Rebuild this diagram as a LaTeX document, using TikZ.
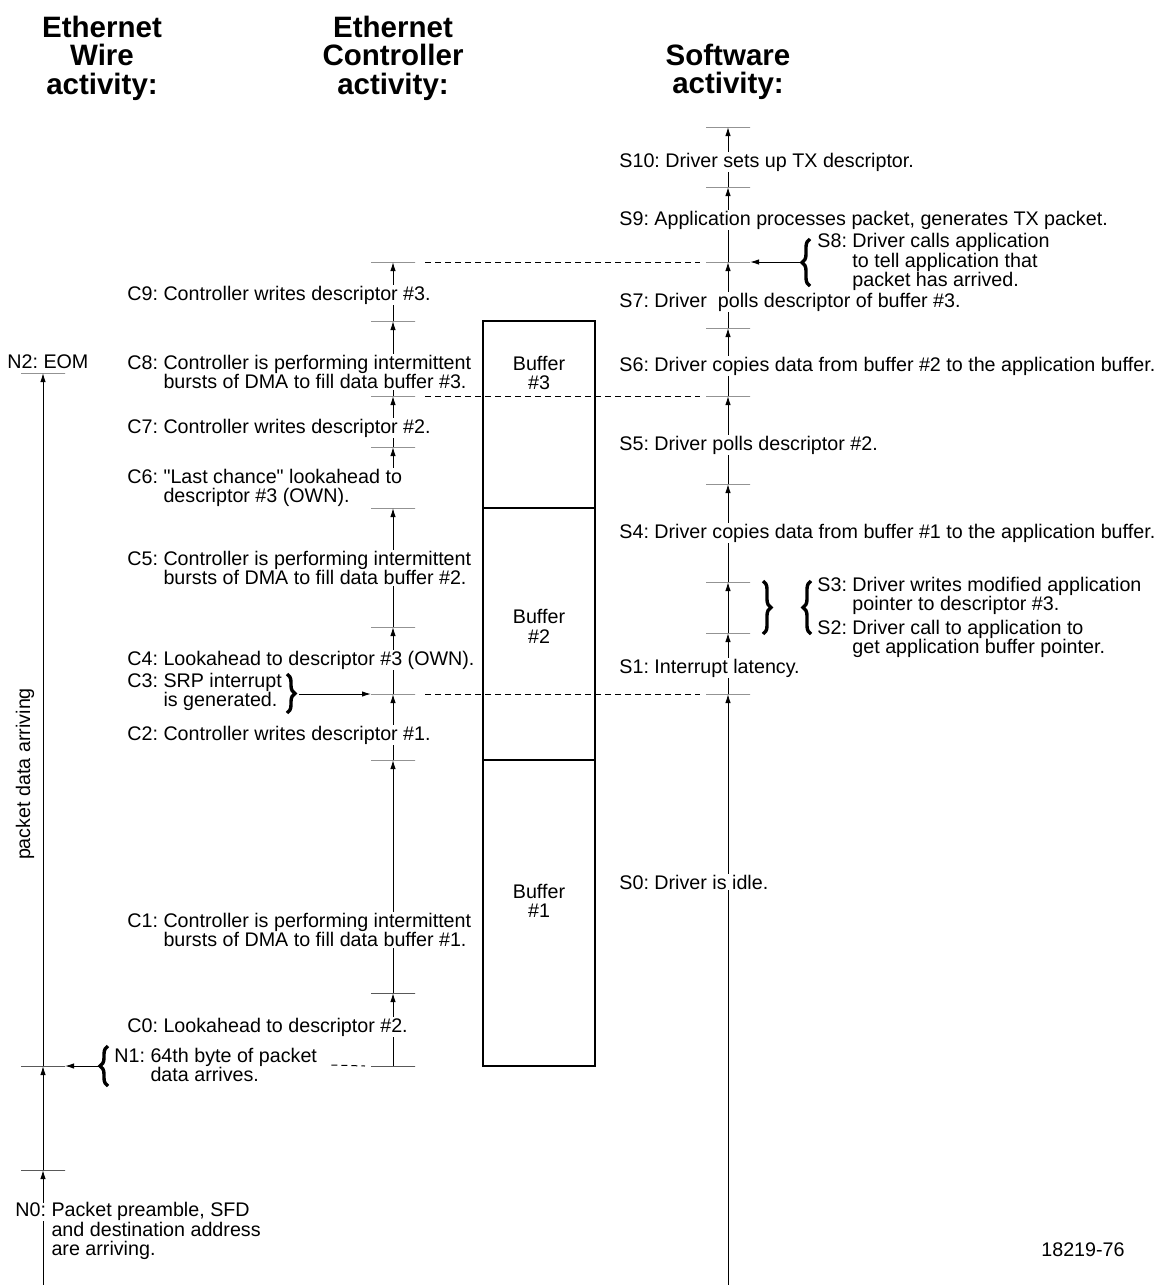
\documentclass[tikz,border=0pt]{standalone}
\usepackage{fontspec}
\setmainfont{Liberation Sans}
\usepackage{tikz}
\usetikzlibrary{arrows.meta, positioning, calc, fit, decorations.pathreplacing}
\frenchspacing
\newcommand{\stepfont}{\fontsize{9.85}{9.6}\selectfont}
\newcommand{\hdrfont}{\fontsize{14.75}{14.25}\selectfont\bfseries}
\tikzset{
  tickmark/.style={rectangle, draw=black!65, line width=0.5pt,
    minimum width=22pt, minimum height=0pt, inner sep=0pt, outer sep=0pt},
  flow/.style={-{Latex[length=4.5pt,width=2.7pt]}, line width=0.5pt},
  syncline/.style={line width=0.5pt, dash pattern=on 3pt off 2pt},
  bufferbox/.style={rectangle, draw, line width=1.3pt, inner sep=0pt},
  buftext/.style={font=\stepfont, align=center},
  steptext/.style={anchor=west, fill=white, inner xsep=1pt, inner ysep=0.5pt,
    font=\stepfont, align=left},
  hdrtext/.style={font=\hdrfont, align=center},
  curly/.style={decorate, decoration={brace, amplitude=4pt}, line width=1.7pt}
}

\begin{document}
\begin{tikzpicture}[x=0.5pt, y=-0.5pt]
  \useasboundingbox (0,0) rectangle (1157,1285);

  % Column headings
  \node[hdrtext] (wirehdr) at (102,58) {Ethernet\\Wire\\activity:};
  \node[hdrtext] (ctrlhdr) at (393,58) {Ethernet\\Controller\\activity:};
  \node[hdrtext] (swhdr) at (728,72) {Software\\activity:};

  % Receive buffers
  \node[bufferbox, fit={(483,321) (595,508)}] (buf3) {};
  \node[bufferbox, fit={(483,508) (595,760)}] (buf2) {};
  \node[bufferbox, fit={(483,760) (595,1066)}] (buf1) {};
  \node[buftext] (buf3lbl) at ($(buf3.north)!0.28!(buf3.south)$) {Buffer\\\#3};
  \node[buftext] (buf2lbl) at ($(buf2.north)!0.47!(buf2.south)$) {Buffer\\\#2};
  \node[buftext] (buf1lbl) at ($(buf1.north)!0.46!(buf1.south)$) {Buffer\\\#1};

  % Wire time line
  \coordinate (wirebot) at (43,1285);
  \node[tickmark] (n0t) at (43,1170) {};
  \node[tickmark] (n1t) at (43,1066) {};
  \node[tickmark] (n2t) at (43,373) {};
  \draw[flow] (wirebot) -- (n0t);
  \draw[flow] (n0t) -- (n1t);
  \draw[flow] (n1t) -- (n2t);

  % Controller time line
  \node[tickmark] (ct1) at (393,1066) {};
  \node[tickmark] (ct2) at (393,993) {};
  \node[tickmark] (ct3) at (393,760) {};
  \node[tickmark] (ct4) at (393,694) {};
  \node[tickmark] (ct5) at (393,627) {};
  \node[tickmark] (ct6) at (393,508) {};
  \node[tickmark] (ct7) at (393,447) {};
  \node[tickmark] (ct8) at (393,396) {};
  \node[tickmark] (ct9) at (393,321) {};
  \node[tickmark] (ct10) at (393,262) {};
  \draw[flow] (ct1) -- (ct2);
  \draw[flow] (ct2) -- (ct3);
  \draw[flow] (ct3) -- (ct4);
  \draw[flow] (ct4) -- (ct5);
  \draw[flow] (ct5) -- (ct6);
  \draw[flow] (ct6) -- (ct7);
  \draw[flow] (ct7) -- (ct8);
  \draw[flow] (ct8) -- (ct9);
  \draw[flow] (ct9) -- (ct10);

  % Software time line
  \coordinate (swbot) at (728,1285);
  \node[tickmark] (st1) at (728,694) {};
  \node[tickmark] (st2) at (728,633) {};
  \node[tickmark] (st3) at (728,582) {};
  \node[tickmark] (st4) at (728,484) {};
  \node[tickmark] (st5) at (728,396) {};
  \node[tickmark] (st6) at (728,328) {};
  \node[tickmark] (st7) at (728,262) {};
  \node[tickmark] (st8) at (728,187) {};
  \node[tickmark] (st9) at (728,127) {};
  \draw[flow] (swbot) -- (st1);
  \draw[flow] (st1) -- (st2);
  \draw[flow] (st2) -- (st3);
  \draw[flow] (st3) -- (st4);
  \draw[flow] (st4) -- (st5);
  \draw[flow] (st5) -- (st6);
  \draw[flow] (st6) -- (st7);
  \draw[flow] (st7) -- (st8);
  \draw[flow] (st8) -- (st9);

  % Sync lines between controller and software
  \draw[syncline] ([xshift=5pt]ct10.east) -- ([xshift=-3pt]st7.west);
  \draw[syncline] ([xshift=5pt]ct8.east) -- ([xshift=-3pt]st5.west);
  \draw[syncline] ([xshift=5pt]ct4.east) -- ([xshift=-3pt]st1.west);

  % Wire events
  \node[steptext] (n2) at (5,362) {N2: EOM};
  \node[rotate=90, font=\stepfont] (arrivelbl) at (25,774) {packet data arriving};
  \node[steptext] (n1) at (112,1065) {N1: 64th byte of packet\\\hphantom{N1: }data arrives.};
  \node[steptext, fill=none] (n0) at (13,1231)
    {{\setlength{\fboxsep}{0pt}\colorbox{white}{N0: Packet preamble, SFD}}\\
     \hphantom{N0: }and destination address\\\hphantom{N0: }are arriving.};
  \draw[curly] (108,1086) -- (108,1046);
  \coordinate (n1tip) at (99,1066);
  \draw[flow] (n1tip) -- (n1t.east);
  \draw[syncline] ([xshift=6pt]n1.east) -- ([xshift=-3pt]ct1.west);

  % Controller steps
  \node[steptext] (c0) at (125,1027) {C0: Lookahead to descriptor \#2.};
  \node[steptext] (c1) at (125,930) {C1: Controller is performing intermittent\\\hphantom{C1: }bursts of DMA to fill data buffer \#1.};
  \node[steptext] (c2) at (125,735) {C2: Controller writes descriptor \#1.};
  \node[steptext] (c3) at (125,692) {C3: SRP interrupt\\\hphantom{C3: }is generated.};
  \node[steptext] (c4) at (125,660) {C4: Lookahead to descriptor \#3 (OWN).};
  \node[steptext] (c5) at (125,568) {C5: Controller is performing intermittent\\\hphantom{C5: }bursts of DMA to fill data buffer \#2.};
  \node[steptext] (c6) at (125,488) {C6: \textquotedbl Last chance\textquotedbl\ lookahead to\\\hphantom{C6: }descriptor \#3 (OWN).};
  \node[steptext] (c7) at (125,428) {C7: Controller writes descriptor \#2.};
  \node[steptext] (c8) at (125,372) {C8: Controller is performing intermittent\\\hphantom{C8: }bursts of DMA to fill data buffer \#3.};
  \node[steptext] (c9) at (125,295) {C9: Controller writes descriptor \#3.};
  \draw[curly] (287,674) -- (287,713);
  \coordinate (c3tip) at (299,694);
  \draw[flow] (c3tip) -- (ct4.west);

  % Software steps
  \node[steptext] (s0) at (617,882) {S0: Driver is idle.};
  \node[steptext] (s1) at (617,668) {S1: Interrupt latency.};
  \node[steptext] (s2) at (815,639) {S2: Driver call to application to\\\hphantom{S2: }get application buffer pointer.};
  \node[steptext] (s3) at (815,596) {S3: Driver writes modified application\\\hphantom{S3: }pointer to descriptor \#3.};
  \node[steptext] (s4) at (617,533) {S4: Driver copies data from buffer \#1 to the application buffer.};
  \node[steptext] (s5) at (617,445) {S5: Driver polls descriptor \#2.};
  \node[steptext] (s6) at (617,366) {S6: Driver copies data from buffer \#2 to the application buffer.};
  \node[steptext] (s7) at (617,302) {S7: Driver\ \ polls descriptor of buffer \#3.};
  \node[steptext] (s8) at (815,262) {S8: Driver calls application\\\hphantom{S8: }to tell application that\\\hphantom{S8: }packet has arrived.};
  \node[steptext] (s9) at (617,220) {S9: Application processes packet, generates TX packet.};
  \node[steptext] (s10) at (617,162) {S10: Driver sets up TX descriptor.};
  \draw[curly] (763,581) -- (763,634);
  \draw[curly] (811,634) -- (811,581);
  \draw[curly] (810,286) -- (810,239);
  \coordinate (s8tip) at (800,262);
  \draw[flow] (s8tip) -- (st7.east);

  % Figure number
  \node[font=\stepfont] (fignum) at (1083,1250) {18219-76};
\end{tikzpicture}
\end{document}
